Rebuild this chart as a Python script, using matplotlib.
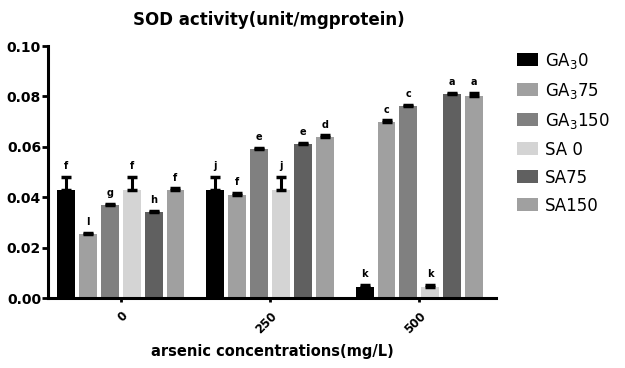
import matplotlib
matplotlib.use("Agg")
import matplotlib.pyplot as plt
import matplotlib.transforms as mtransforms
import numpy as np

plt.rcParams['font.family'] = ['DejaVu Sans']
plt.rcParams['mathtext.default'] = 'regular'

groups = ['0', '250', '500']
series = [r'GA$_3$0', r'GA$_3$75', r'GA$_3$150', 'SA 0', 'SA75', 'SA150']
colors = ['#000000', '#a0a0a0', '#808080', '#d4d4d4', '#606060', '#a0a0a0']
values = [
    [0.043, 0.043, 0.0045],   # GA3 0
    [0.0255, 0.041, 0.070],   # GA3 75
    [0.037, 0.059, 0.076],    # GA3 150
    [0.043, 0.043, 0.0045],   # SA 0
    [0.034, 0.061, 0.0808],   # SA75
    [0.043, 0.064, 0.080],    # SA150
]
errors = [
    [0.005, 0.005, 0.0007],
    [0.0003, 0.0007, 0.0005],
    [0.0005, 0.0006, 0.0006],
    [0.005, 0.005, 0.0007],
    [0.0006, 0.0005, 0.0007],
    [0.0006, 0.0006, 0.0015],
]
letters = [
    ['f', 'j', 'k'],
    ['l', 'f', 'c'],
    ['g', 'e', 'c'],
    ['f', 'j', 'k'],
    ['h', 'e', 'a'],
    ['f', 'd', 'a'],
]

fig = plt.figure(figsize=(6.25, 3.68), dpi=100)
ax = fig.add_axes([48/625, 1-298/368, (496-48)/625, (298-46)/368])

pitch = 0.1467
width = 0.12
x = np.arange(len(groups))
handles = []
for i, (name, col) in enumerate(zip(series, colors)):
    pos = x + (i - 2.5) * pitch
    b = ax.bar(pos, values[i], width=width, color=col, edgecolor='none', label=name, zorder=2)
    handles.append(b)
    ax.errorbar(pos, values[i], yerr=[np.zeros(3), errors[i]], fmt='none', ecolor='black',
                elinewidth=2.2, capsize=3.5, capthick=2.5, zorder=3)
    for p, v, e, l in zip(pos, values[i], errors[i], letters[i]):
        ax.text(p, v + e + 0.0022, l, ha='center', va='bottom', fontsize=7, fontweight='bold')

ax.set_xlim(-0.487, 2.513)
ax.set_ylim(0, 0.10)
ax.set_yticks([0, 0.02, 0.04, 0.06, 0.08, 0.10])
ax.set_yticklabels(['0.00', '0.02', '0.04', '0.06', '0.08', '0.10'])
ax.set_xticks(x)
ax.set_xticklabels(groups, rotation=45, ha='right', rotation_mode='anchor')
for lab in ax.get_yticklabels():
    lab.set_fontweight('bold')
    lab.set_fontsize(10)
offset = mtransforms.ScaledTranslation(-4/100, 2/100, fig.dpi_scale_trans)
for lab in ax.get_xticklabels():
    lab.set_fontweight('bold')
    lab.set_fontsize(8.5)
    lab.set_transform(lab.get_transform() + offset)
ax.tick_params(axis='y', direction='out', length=4, width=2, pad=1)
ax.tick_params(axis='x', direction='out', length=3, width=2, pad=5)
for s in ['top', 'right']:
    ax.spines[s].set_visible(False)
for s in ['left', 'bottom']:
    ax.spines[s].set_linewidth(2.2)

ax.set_xlabel('arsenic concentrations(mg/L)', fontsize=10.5, fontweight='bold', labelpad=6)
fig.text(269/625, 1-20/368, 'SOD activity(unit/mgprotein)', ha='center', va='center',
         fontsize=12, fontweight='bold')

fig.legend(handles=handles, labels=series, loc='upper left', bbox_to_anchor=(510/625, 1-44/368),
           frameon=False, fontsize=12, handlelength=1.25, handleheight=0.8,
           labelspacing=0.6, handletextpad=0.45, borderaxespad=0)

fig.savefig('out.png', dpi=100)
